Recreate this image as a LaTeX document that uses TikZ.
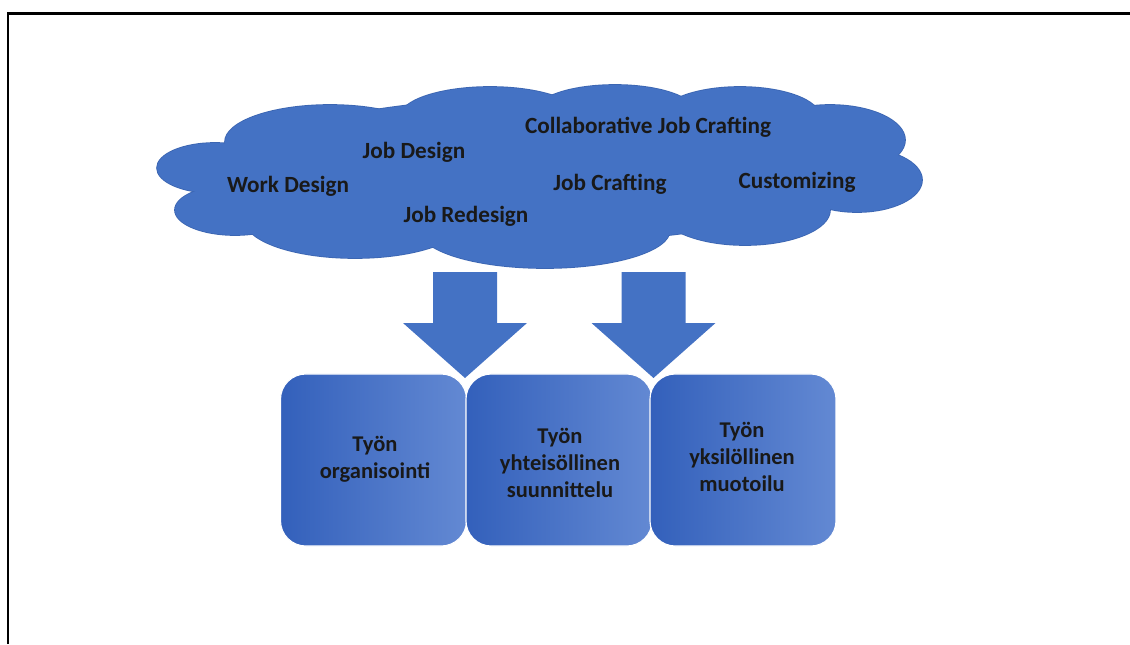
\documentclass[tikz,border=0pt]{standalone}
\usepackage{fontspec}
\setmainfont{Carlito}
\usetikzlibrary{positioning}
\usetikzlibrary{calc}
\definecolor{cloudblue}{HTML}{4472C4}
\definecolor{cloudedge}{HTML}{3C66B2}
\definecolor{boxleft}{HTML}{3360BB}
\definecolor{boxright}{HTML}{6389D3}
\tikzstyle{lobe}=[fill=cloudblue]
\tikzstyle{lobeedge}=[draw=cloudedge,line width=1.2pt]
\tikzstyle{term}=[font=\bfseries\fontsize{16.5}{19}\selectfont, text=black!90, inner sep=1pt]
\tikzstyle{box}=[rounded corners=18pt, left color=boxleft, right color=boxright, draw=white, line width=0.8pt, minimum width=4.65cm, minimum height=4.3cm]
\tikzstyle{boxtext}=[align=center, font=\bfseries\fontsize{16}{19.5}\selectfont, text=black!90]
\tikzstyle{blockarrow}=[fill=cloudblue]

\begin{document}
\begin{tikzpicture}[x=0.025cm, y=-0.025cm]
  \useasboundingbox (0,0) rectangle (1130,644);

  % frame
  \draw[line width=2pt] (8,644) -- (8,13.5) -- (1130,13.5);

  % cloud: outline first, then fill over it
  \foreach \pos/\rx/\ry in {{(215,168)/58/25}, {(235,210)/60/25}, {(330,142)/105/37}, {(490,117)/90/30},
      {(615,112)/80/27}, {(740,117)/80/30}, {(830,140)/75/35}, {(857,180)/65/32},
      {(745,210)/85/35}, {(545,230)/125/38}, {(355,220)/110/38}, {(540,170)/300/72}}
    \draw[lobeedge] \pos ellipse[x radius=\rx, y radius=\ry];
  \foreach \pos/\rx/\ry in {{(215,168)/58/25}, {(235,210)/60/25}, {(330,142)/105/37}, {(490,117)/90/30},
      {(615,112)/80/27}, {(740,117)/80/30}, {(830,140)/75/35}, {(857,180)/65/32},
      {(745,210)/85/35}, {(545,230)/125/38}, {(355,220)/110/38}, {(540,170)/300/72}}
    \fill[lobe] \pos ellipse[x radius=\rx, y radius=\ry];

  \foreach \pos/\name/\txt in {{(648,127)/collab/Collaborative Job Crafting}, {(414,152)/jobdesign/Job Design},
      {(288,186)/workdesign/Work Design}, {(610,184)/jobcrafting/Job Crafting},
      {(797,182)/customizing/Customizing}, {(466,216)/redesign/Job Redesign}}
    \node[term] (\name) at \pos {\txt};

  % boxes
  \node[box] (organisointi) at (373.5,460) {};
  \node[box] (yhteisollinen) at (559,460) {};
  \node[box] (yksilollinen) at (743,460) {};
  \node[boxtext] (organisointitxt) at (375,459) {Työn\\organisointi};
  \node[boxtext] (yhteisollinentxt) at (560,463) {Työn\\yhteisöllinen\\suunnittelu};
  \node[boxtext] (yksilollinentxt) at (742,457) {Työn\\yksilöllinen\\muotoilu};

  % block arrows
  \foreach \cx in {465,653.5}
    \fill[blockarrow] ({\cx-32},272) -- ({\cx+32},272) -- ({\cx+32},323) -- ({\cx+62},323)
      -- (\cx,378) -- ({\cx-62},323) -- ({\cx-32},323) -- cycle;

\end{tikzpicture}
\end{document}
